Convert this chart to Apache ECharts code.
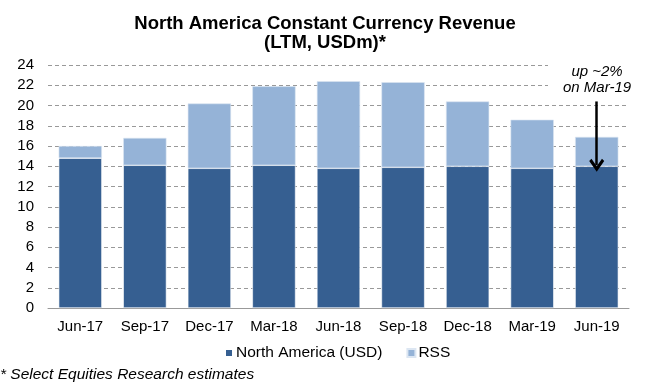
<!DOCTYPE html>
<html><head><meta charset="utf-8">
<script src="https://cdn.jsdelivr.net/npm/echarts@6/dist/echarts.min.js"></script>
<style>html,body{margin:0;padding:0;background:#fff}#c{width:650px;height:385px}</style>
</head><body><div id="c"></div>
<script>
const categories = ['Jun-17','Sep-17','Dec-17','Mar-18','Jun-18','Sep-18','Dec-18','Mar-19','Jun-19'];
const northAmerica = [14.8, 14.1, 13.8, 14.1, 13.8, 13.9, 14.0, 13.8, 14.0];
const rss = [1.2, 2.7, 6.4, 7.8, 8.6, 8.4, 6.4, 4.8, 2.9];
const yTicks = [0, 24, 2];
const arrowFrom = ['Jun-19', 20.4];
const arrowTo = ['Jun-19', 14.1];

const chart = echarts.init(document.getElementById('c'), null, {renderer: 'canvas'});
const font = 'Liberation Sans, Arial, sans-serif';
chart.setOption({
  animation: false,
  textStyle: {fontFamily: font},
  title: {
    text: 'North America Constant Currency Revenue\n(LTM, USDm)*',
    left: 'center', top: 9,
    textStyle: {fontSize: 18.5, fontWeight: 'bold', color: '#000', lineHeight: 19, fontFamily: font}
  },
  grid: {left: 48, right: 21, top: 65, bottom: 77},
  legend: {
    top: 340, left: 219,
    itemWidth: 8, itemHeight: 8, itemGap: 24,
    icon: 'rect',
    textStyle: {fontSize: 15.5, color: '#000', fontFamily: font, padding: [0,0,0,-2]},
    data: ['North America (USD)', 'RSS']
  },
  xAxis: {
    type: 'category', data: categories,
    axisLine: {lineStyle: {color: '#999'}},
    axisTick: {show: false},
    axisLabel: {fontSize: 15, color: '#000', margin: 11, fontFamily: font, interval: 0, hideOverlap: false}
  },
  yAxis: {
    type: 'value', min: yTicks[0], max: yTicks[1], interval: yTicks[2],
    axisLine: {show: false}, axisTick: {show: false},
    axisLabel: {fontSize: 15, color: '#000', margin: 14, fontFamily: font},
    splitLine: {lineStyle: {color: '#999', type: [4, 3], width: 1}}
  },
  series: [
    {
      name: 'North America (USD)', type: 'bar', stack: 'a', data: northAmerica,
      barCategoryGap: '33%',
      itemStyle: {color: '#365F91', borderColor: '#FFFFFF', borderWidth: 0.6}
    },
    {
      name: 'RSS', type: 'bar', stack: 'a', data: rss,
      itemStyle: {color: '#95B3D7', borderColor: '#DCE6F2', borderWidth: 0.6},
      markLine: {
        silent: true,
        symbol: ['none', 'path://M10,0 L20,12 L17,14.5 L10,6 L3,14.5 L0,12 Z'],
        symbolSize: [15, 13],
        lineStyle: {color: '#000', width: 2.5, type: 'solid'},
        label: {show: false},
        data: [[{coord: arrowFrom}, {coord: arrowTo}]]
      }
    }
  ],
  graphic: [
    {type: 'rect', left: 548, top: 60, z: 50,
     shape: {width: 102, height: 37}, style: {fill: '#fff'}},
    {type: 'text', left: 563, top: 64, z: 100,
     style: {text: 'up ~2%\non Mar-19', fill: '#000', font: 'italic 15px ' + font, textAlign: 'center', lineHeight: 16, x: 36}},
    {type: 'text', left: 0, top: 367,
     style: {text: '* Select Equities Research estimates', fill: '#000', font: 'italic 15.5px ' + font}}
  ]
});
</script></body></html>
